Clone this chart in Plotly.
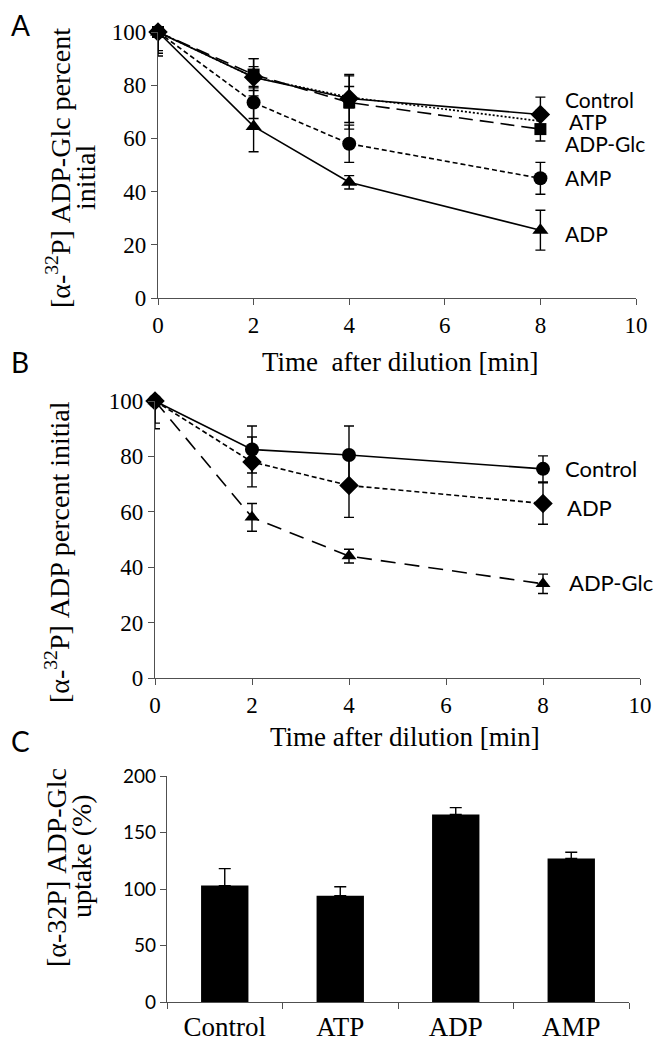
import plotly.graph_objects as go

# ---------------- data ----------------
time_min = [0, 2, 4, 8]

# Panel A: [a-32P] ADP-Glc percent initial
a_control = [100, 83, 75, 69]
a_control_err = [0, 7, 9, 6.5]
a_control_errm = [8, 7, 9, 6.5]
a_atp = [100, 83, 75.5, 66.5]
a_atp_err = [0, 4, 4, 4]
a_adpglc = [100, 84, 73.5, 63.5]
a_adpglc_err = [0, 6, 10, 4.5]
a_adpglc_errm = [7, 6, 10, 4.5]
a_amp = [100, 73.5, 58, 45]
a_amp_err = [0, 6, 7, 6]
a_amp_errm = [9, 6, 7, 6]
a_adp = [100, 64.5, 43.5, 25.5]
a_adp_err = [0, 9.5, 2.5, 7.5]

# Panel B: [a-32P] ADP percent initial
b_control = [100, 82.5, 80.5, 75.5]
b_control_err = [0, 8.5, 10.5, 4.7]
b_control_errm = [10, 8.5, 10.5, 4.7]
b_adp = [100, 78, 69.5, 63]
b_adp_err = [0, 9, 11.5, 7.5]
b_adp_errm = [8, 9, 11.5, 7.5]
b_adpglc = [100, 58, 44, 34]
b_adpglc_err = [0, 5, 2.5, 3.5]

# Panel C: uptake (%)
c_cats = ["Control", "ATP", "ADP", "AMP"]
c_vals = [103, 94, 166, 127]
c_err = [15, 8, 6, 5.5]

SERIF = "Liberation Serif"
SANS = "Lato"
AX = "#505050"
W, H = 664, 1050
OFF = 8  # page body margin


def px_x(a, b):
    return [(a - OFF) / W, (b - OFF) / W]


def px_y(top, bottom):
    return [1 - (bottom - OFF) / H, 1 - (top - OFF) / H]


def fx(x):
    return (x - OFF) / W


def fy(y):
    return 1 - (y - OFF) / H


fig = go.Figure()


def line_trace(y, err, errm, dash, symbol, size, xa, ya, name):
    marker = dict(symbol=symbol, size=size, color="black") if symbol else None
    fig.add_trace(go.Scatter(
        x=time_min, y=y, xaxis=xa, yaxis=ya, name=name,
        mode="lines+markers" if symbol else "lines",
        line=dict(color="black", width=1.6, dash=dash),
        marker=marker, cliponaxis=False, showlegend=False,
        error_y=dict(type="data", symmetric=False, array=err, arrayminus=errm,
                     color="black", thickness=1.4, width=5),
    ))


line_trace(a_atp, a_atp_err, a_atp_err, "2px,2px", None, 0, "x", "y", "ATP")
line_trace(a_adpglc, a_adpglc_err, a_adpglc_errm, "14px,7px", "square", 12, "x", "y", "ADP-Glc")
line_trace(a_amp, a_amp_err, a_amp_errm, "5px,3px", "circle", 14, "x", "y", "AMP")
line_trace(a_adp, a_adp_err, a_adp_err, "solid", "triangle-up", 14, "x", "y", "ADP")
line_trace(a_control, a_control_err, a_control_errm, "solid", "diamond", 15, "x", "y", "Control")

line_trace(b_adpglc, b_adpglc_err, b_adpglc_err, "15px,9px", "triangle-up", 13, "x2", "y2", "ADP-Glc")
line_trace(b_adp, b_adp_err, b_adp_errm, "5px,3px", "diamond", 15, "x2", "y2", "ADP")
line_trace(b_control, b_control_err, b_control_errm, "solid", "circle", 14, "x2", "y2", "Control")

fig.add_trace(go.Bar(
    x=c_cats, y=c_vals, xaxis="x3", yaxis="y3", width=0.41,
    marker=dict(color="black", line=dict(width=0)), showlegend=False,
    error_y=dict(type="data", symmetric=False, array=c_err, arrayminus=[0, 0, 0, 0],
                 color="black", thickness=1.4, width=6),
))


def axis(domain, anchor, rng, dtick, tfont, tsize, **kw):
    d = dict(domain=domain, anchor=anchor, range=rng, showline=True, linecolor=AX,
             linewidth=1.4, ticks="outside", ticklen=6, tickcolor=AX, tickwidth=1.4,
             showgrid=False, zeroline=False, automargin=False,
             tickfont=dict(family=tfont, size=tsize, color="black"))
    if dtick is not None:
        d["dtick"] = dtick
        d["tick0"] = 0
    d.update(kw)
    return d


fig.update_layout(
    width=W, height=H, margin=dict(l=0, r=0, t=0, b=0, pad=0, autoexpand=False),
    plot_bgcolor="white", paper_bgcolor="white",
    xaxis=axis(px_x(158, 636), "y", [0, 10], 2, SERIF, 23),
    yaxis=axis(px_y(32, 298), "x", [0, 100], 20, SERIF, 23),
    xaxis2=axis(px_x(155, 640), "y2", [0, 10], 2, SERIF, 23),
    yaxis2=axis(px_y(401, 678), "x2", [0, 100], 20, SERIF, 23),
    xaxis3=axis(px_x(167, 629), "y3", [-0.5, 3.5], None, SERIF, 27,
                type="category", tickson="boundaries"),
    yaxis3=axis(px_y(776, 1002), "x3", [0, 200], 50, SANS, 19),
)

ann = []


def txt(x, y, text, size, family, xref="paper", yref="paper", xanchor="center", angle=0):
    ann.append(dict(x=x, y=y, xref=xref, yref=yref, text=text, showarrow=False,
                    font=dict(family=family, size=size, color="black"),
                    xanchor=xanchor, yanchor="middle", textangle=angle))


# panel letters
txt(fx(20), fy(25), "A", 28, SANS)
txt(fx(20), fy(362), "B", 28, SANS)
txt(fx(20), fy(741), "C", 28, SANS)

# axis titles
txt(fx(400), fy(362), "Time  after dilution [min]", 27, SERIF)
txt(fx(405), fy(737), "Time after dilution [min]", 27, SERIF)
txt(fx(58), fy(168), "[α-<sup>32</sup>P] ADP-Glc percent", 28, SERIF, angle=-90)
txt(fx(85), fy(177), "initial", 28, SERIF, angle=-90)
txt(fx(57), fy(552), "[α-<sup>32</sup>P] ADP percent initial", 28, SERIF, angle=-90)
txt(fx(56), fy(868), "[α-32P] ADP-Glc", 28, SERIF, angle=-90)
txt(fx(81), fy(856), "uptake (%)", 28, SERIF, angle=-90)

# series labels (panel A)
for lab, xl, yl in [("Control", 563, 100), ("ATP", 567, 121), ("ADP-Glc", 563, 143),
                    ("AMP", 563, 178), ("ADP", 563, 233)]:
    txt(fx(xl), fy(yl), lab, 21, SANS, xanchor="left")
# series labels (panel B)
for lab, xl, yl in [("Control", 563, 468), ("ADP", 565, 507), ("ADP-Glc", 567, 582)]:
    txt(fx(xl), fy(yl), lab, 22, SANS, xanchor="left")

fig.update_layout(annotations=ann)
fig.write_html("out.html")
